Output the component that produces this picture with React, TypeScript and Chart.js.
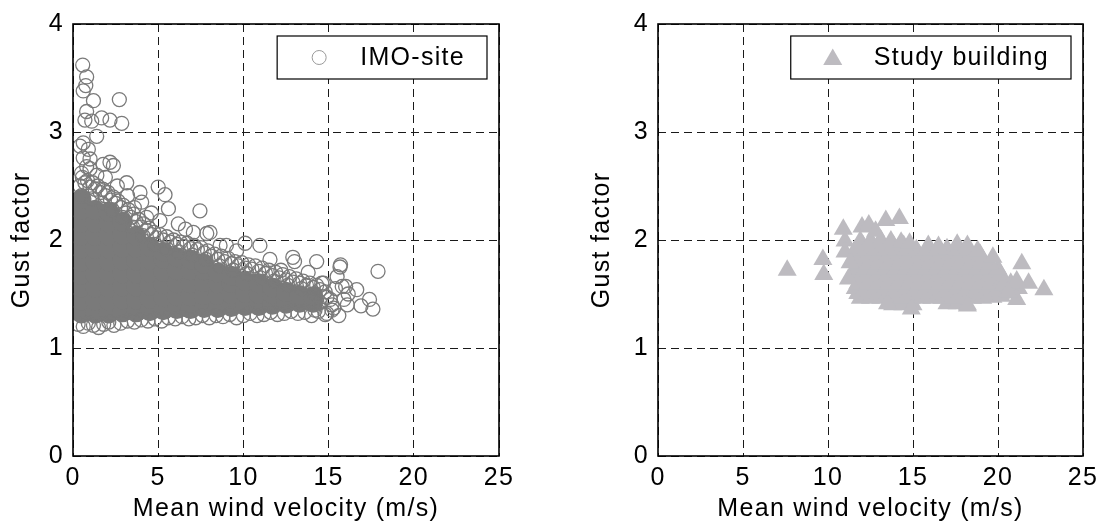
import React, { useEffect, useRef } from 'react';
import { Chart, registerables } from 'chart.js';

Chart.register(...registerables);

// ---------------- data ----------------
const xTicks = [0, 5, 10, 15, 20, 25];
const yTicks = [0, 1, 2, 3, 4];
const xTitle = 'Mean wind velocity (m/s)';
const yTitle = 'Gust factor';
const imoLabel = 'IMO-site';
const studyLabel = 'Study building';

type P = [number, number];

// IMO-site: densely overlapping core of the cloud
const imoDense: P[] = [
  [0.5, 1.32], [0.5, 1.44], [0.5, 1.56], [0.5, 1.68], [0.5, 1.8], [0.5, 1.92], [0.5, 2.04], [0.5, 2.16], [0.5, 2.28], [0.5, 2.38],
  [1.3, 1.32], [1.3, 1.44], [1.3, 1.56], [1.3, 1.68], [1.3, 1.8], [1.3, 1.92], [1.3, 2.04], [1.3, 2.16], [1.3, 2.28],
  [2.1, 1.32], [2.1, 1.44], [2.1, 1.56], [2.1, 1.68], [2.1, 1.8], [2.1, 1.92], [2.1, 2.04], [2.1, 2.16], [2.1, 2.26],
  [2.9, 1.33], [2.9, 1.45], [2.9, 1.57], [2.9, 1.69], [2.9, 1.81], [2.9, 1.93], [2.9, 2.05], [2.9, 2.17],
  [3.7, 1.33], [3.7, 1.45], [3.7, 1.57], [3.7, 1.69], [3.7, 1.81], [3.7, 1.93], [3.7, 2.04],
  [4.5, 1.34], [4.5, 1.46], [4.5, 1.58], [4.5, 1.7], [4.5, 1.82], [4.5, 1.94],
  [5.3, 1.35], [5.3, 1.47], [5.3, 1.59], [5.3, 1.71], [5.3, 1.83], [5.3, 1.89],
  [6.1, 1.36], [6.1, 1.48], [6.1, 1.6], [6.1, 1.72], [6.1, 1.84],
  [6.9, 1.36], [6.9, 1.48], [6.9, 1.6], [6.9, 1.72], [6.9, 1.82],
  [7.7, 1.37], [7.7, 1.49], [7.7, 1.61], [7.7, 1.72], [7.7, 1.78],
  [8.5, 1.37], [8.5, 1.49], [8.5, 1.6], [8.5, 1.7],
  [9.3, 1.38], [9.3, 1.5], [9.3, 1.6], [9.3, 1.67],
  [10.1, 1.39], [10.1, 1.51], [10.1, 1.62],
  [10.9, 1.39], [10.9, 1.5], [10.9, 1.6],
  [11.7, 1.4], [11.7, 1.5], [11.7, 1.56],
  [12.5, 1.41], [12.5, 1.52],
  [13.3, 1.42], [13.3, 1.49],
  [14.1, 1.42], [14.1, 1.48],
];

// IMO-site: circles along the outline of the cloud
const imoEdge: P[] = [
  [0.4, 2.5], [0.7, 2.53], [1.0, 2.49], [1.3, 2.47], [1.6, 2.44], [1.9, 2.41], [2.2, 2.37], [2.5, 2.34], [2.8, 2.3], [3.1, 2.25],
  [3.4, 2.21], [3.7, 2.17], [4.0, 2.12], [4.3, 2.09], [4.6, 2.05], [4.9, 2.02], [5.3, 2.0], [5.7, 1.98], [6.1, 1.96], [6.5, 1.94],
  [6.9, 1.92], [7.3, 1.91], [7.7, 1.88], [8.1, 1.85], [8.5, 1.82], [8.9, 1.8], [9.3, 1.78], [9.7, 1.76], [10.1, 1.74], [10.5, 1.73],
  [10.9, 1.71], [11.3, 1.69], [11.7, 1.67], [12.1, 1.65], [12.5, 1.63], [12.9, 1.61], [13.3, 1.6], [13.7, 1.58], [14.1, 1.56], [14.5, 1.54],
  [0.55, 2.58], [0.85, 2.55], [1.15, 2.53], [1.45, 2.5], [1.75, 2.47], [2.05, 2.44], [2.35, 2.4], [2.65, 2.36], [2.95, 2.32], [3.25, 2.28],
  [3.55, 2.24], [3.85, 2.19], [4.15, 2.15], [4.45, 2.11], [4.75, 2.07], [5.1, 2.05], [5.5, 2.03], [5.9, 2.0], [6.3, 1.98], [6.7, 1.97],
  [7.1, 1.95], [7.5, 1.93], [7.9, 1.9], [8.3, 1.87], [8.7, 1.85], [9.1, 1.83], [9.5, 1.8], [9.9, 1.79], [10.3, 1.77], [10.7, 1.76],
  [11.1, 1.74], [11.5, 1.72], [11.9, 1.7], [12.3, 1.68], [12.7, 1.66], [13.1, 1.64], [13.5, 1.62], [13.9, 1.6], [14.3, 1.58],
  [0.5, 2.41], [1.1, 2.38], [1.7, 2.34], [2.3, 2.28], [2.9, 2.21], [3.5, 2.12], [4.1, 2.04], [4.8, 1.96], [5.5, 1.92], [6.2, 1.89],
  [7.0, 1.86], [7.8, 1.82], [8.6, 1.76], [9.4, 1.72], [10.2, 1.69], [11.0, 1.65], [11.8, 1.62], [12.6, 1.58], [13.4, 1.55], [14.2, 1.5],
  [0.3, 1.22], [0.6, 1.2], [0.9, 1.23], [1.2, 1.21], [1.5, 1.19], [1.8, 1.22], [2.1, 1.24], [2.4, 1.21], [2.8, 1.23], [3.2, 1.25],
  [3.6, 1.24], [4.0, 1.26], [4.4, 1.25], [4.8, 1.27], [5.2, 1.25], [5.6, 1.28], [6.0, 1.27], [6.4, 1.29], [6.8, 1.27], [7.2, 1.28],
  [7.6, 1.3], [8.0, 1.28], [8.4, 1.3], [8.8, 1.29], [9.2, 1.31], [9.6, 1.28], [10.0, 1.3], [10.4, 1.32], [10.8, 1.3], [11.2, 1.31],
  [11.6, 1.33], [12.0, 1.31], [12.4, 1.32], [12.8, 1.34], [13.2, 1.32], [13.6, 1.33], [14.0, 1.3], [14.4, 1.34], [14.8, 1.31], [15.2, 1.35],
  [14.5, 1.42], [14.8, 1.52], [15.1, 1.45], [15.2, 1.4], [15.4, 1.55], [15.9, 1.45], [14.9, 1.47], [14.6, 1.6],
];

// IMO-site: scattered points outside the cloud
const imoSparse: P[] = [
  [0.57, 3.62], [0.8, 3.51], [0.75, 3.43], [0.6, 3.38], [1.2, 3.29], [2.72, 3.3], [2.86, 3.08], [0.8, 3.19], [0.7, 3.11], [1.68, 3.13],
  [2.17, 3.11], [1.1, 3.1], [1.39, 2.96], [0.41, 2.87], [0.6, 2.9], [0.9, 2.84], [0.6, 2.76], [1.0, 2.75], [0.8, 2.68], [2.17, 2.72],
  [2.37, 2.69], [1.77, 2.7], [1.0, 2.66], [0.5, 2.62], [1.4, 2.6], [1.9, 2.58], [2.6, 2.5], [3.15, 2.53], [3.2, 2.41], [3.93, 2.44],
  [5.0, 2.49], [5.4, 2.42], [4.03, 2.35], [3.6, 2.3], [5.6, 2.29], [7.45, 2.27], [4.32, 2.21], [4.6, 2.25], [5.1, 2.18], [6.18, 2.15],
  [6.6, 2.1], [7.06, 2.07], [8.04, 2.07], [7.85, 2.06], [8.63, 1.95], [9.0, 1.95], [9.6, 1.9], [10.1, 1.97], [10.97, 1.95], [11.56, 1.82],
  [12.2, 1.72], [12.9, 1.84], [13.0, 1.8], [13.8, 1.7], [14.3, 1.8], [14.7, 1.6], [15.5, 1.66], [15.67, 1.75], [15.7, 1.77], [15.8, 1.57],
  [16.0, 1.57], [16.15, 1.5], [16.65, 1.54], [16.1, 1.4], [15.3, 1.37], [16.9, 1.39], [17.4, 1.45], [17.6, 1.36], [17.9, 1.71], [14.9, 1.32],
  [15.6, 1.3], [14.2, 1.35],
];

// Study building: main body of the cluster
const studyBody: P[] = [
  [13.8, 1.4], [14.4, 1.4], [15.0, 1.4], [17.0, 1.41], [17.6, 1.41], [18.2, 1.4],
  [11.9, 1.46], [12.5, 1.46], [13.1, 1.46], [13.7, 1.46], [14.3, 1.46], [14.9, 1.46], [15.5, 1.46], [16.1, 1.46], [16.7, 1.46], [17.3, 1.46],
  [17.9, 1.46], [18.5, 1.46], [19.1, 1.46], [19.7, 1.47], [20.2, 1.48],
  [11.75, 1.505], [12.35, 1.505], [12.95, 1.505], [13.55, 1.505], [14.15, 1.505], [14.75, 1.505], [15.35, 1.505], [15.95, 1.505], [16.55, 1.505], [17.15, 1.505],
  [17.75, 1.505], [18.35, 1.505], [18.95, 1.505], [19.55, 1.505], [20.15, 1.51], [20.75, 1.51],
  [11.6, 1.55], [12.2, 1.55], [12.8, 1.55], [13.4, 1.55], [14.0, 1.55], [14.6, 1.55], [15.2, 1.55], [15.8, 1.55], [16.4, 1.55], [17.0, 1.55],
  [17.6, 1.55], [18.2, 1.55], [18.8, 1.55], [19.4, 1.55], [20.0, 1.55], [20.6, 1.55], [21.2, 1.55],
  [11.75, 1.595], [12.35, 1.595], [12.95, 1.595], [13.55, 1.595], [14.15, 1.595], [14.75, 1.595], [15.35, 1.595], [15.95, 1.595], [16.55, 1.595], [17.15, 1.595],
  [17.75, 1.595], [18.35, 1.595], [18.95, 1.595], [19.55, 1.595], [20.15, 1.595], [20.75, 1.6],
  [11.9, 1.64], [12.5, 1.64], [13.1, 1.64], [13.7, 1.64], [14.3, 1.64], [14.9, 1.64], [15.5, 1.64], [16.1, 1.64], [16.7, 1.64], [17.3, 1.64],
  [17.9, 1.64], [18.5, 1.64], [19.1, 1.64], [19.7, 1.64], [20.3, 1.64],
  [11.75, 1.685], [12.35, 1.685], [12.95, 1.685], [13.55, 1.685], [14.15, 1.685], [14.75, 1.685], [15.35, 1.685], [15.95, 1.685], [16.55, 1.685], [17.15, 1.685],
  [17.75, 1.685], [18.35, 1.685], [18.95, 1.685], [19.55, 1.685], [20.15, 1.685],
  [11.6, 1.73], [12.2, 1.73], [12.8, 1.73], [13.4, 1.73], [14.0, 1.73], [14.6, 1.73], [15.2, 1.73], [15.8, 1.73], [16.4, 1.73], [17.0, 1.73],
  [17.6, 1.73], [18.2, 1.73], [18.8, 1.73], [19.4, 1.73], [20.0, 1.73],
  [11.75, 1.775], [12.35, 1.775], [12.95, 1.775], [13.55, 1.775], [14.15, 1.775], [14.75, 1.775], [15.35, 1.775], [15.95, 1.775], [16.55, 1.775], [17.15, 1.775],
  [17.75, 1.775], [18.35, 1.775], [18.95, 1.775], [19.55, 1.775],
  [11.9, 1.82], [12.5, 1.82], [13.1, 1.82], [13.7, 1.82], [14.3, 1.82], [14.9, 1.82], [15.5, 1.82], [16.1, 1.82], [16.7, 1.82], [17.3, 1.82],
  [17.9, 1.82], [18.5, 1.82], [19.1, 1.82],
  [11.75, 1.865], [12.35, 1.865], [12.95, 1.865], [13.55, 1.865], [14.15, 1.865], [14.75, 1.865], [15.35, 1.865], [15.95, 1.865], [16.55, 1.865], [17.15, 1.865],
  [17.75, 1.865], [18.35, 1.865], [18.95, 1.865],
  [11.6, 1.91], [12.2, 1.91], [12.8, 1.91], [13.4, 1.91], [14.0, 1.91], [14.6, 1.91], [15.2, 1.91], [15.8, 1.91], [16.4, 1.91], [17.0, 1.92],
  [17.6, 1.91], [18.2, 1.91], [18.8, 1.9],
  [12.05, 1.95], [12.65, 1.95], [13.25, 1.95], [13.85, 1.95], [14.45, 1.95],
  [11.9, 1.99], [12.5, 1.99], [13.1, 2.0], [13.7, 1.99], [14.3, 1.98], [14.8, 1.97], [15.9, 1.95], [16.5, 1.94], [17.6, 1.96], [18.2, 1.95],
];

// Study building: scattered triangles around the main body
const studyOutliers: P[] = [
  [7.6, 1.72], [9.7, 1.82], [9.75, 1.68], [11.2, 1.64], [10.9, 2.1], [11.0, 1.99], [11.0, 1.89], [11.3, 1.79], [12.0, 2.12], [12.4, 2.14],
  [13.4, 2.18], [14.2, 2.2], [12.8, 2.08], [21.4, 1.78], [22.7, 1.54], [21.8, 1.6], [21.1, 1.62], [21.1, 1.45], [19.7, 1.84], [14.9, 1.36],
  [18.2, 1.39], [13.5, 1.41], [20.3, 1.58], [20.6, 1.52],
];

// ---------------- styling ----------------
const FONT_FAMILY = '"Liberation Sans", Arial, Helvetica, sans-serif';
const IMO_GRAY = '#7a7a7a';
const STUDY_GRAY = '#bdbbc0';

const toXY = (pts: P[]) => pts.map(([x, y]) => ({ x, y }));

const spacingPlugin = {
  id: 'letterSpacing',
  beforeDraw(chart: any) {
    chart.ctx.letterSpacing = '1.3px';
  },
};

const framePlugin = {
  id: 'frame',
  afterDatasetsDraw(chart: any) {
    const { ctx, chartArea: a } = chart;
    ctx.save();
    ctx.setLineDash([]);
    ctx.strokeStyle = '#000';
    ctx.lineWidth = 1.6;
    ctx.strokeRect(a.left, a.top, a.right - a.left, a.bottom - a.top);
    ctx.restore();
  },
};

const boxLegendPlugin = {
  id: 'boxLegend',
  afterDraw(chart: any, _args: any, opts: any) {
    const { ctx, chartArea: a } = chart;
    const ds = chart.data.datasets[0];
    ctx.save();
    ctx.setLineDash([]);
    ctx.font = `25px ${FONT_FAMILY}`;
    const tw = ctx.measureText(ds.label).width;
    const right = a.right - 12;
    const top = a.top + 12;
    const h = 43;
    const left = right - 25 - tw - 80;
    ctx.fillStyle = '#fff';
    ctx.fillRect(left, top, right - left, h);
    ctx.strokeStyle = '#000';
    ctx.lineWidth = 1.2;
    ctx.strokeRect(left, top, right - left, h);
    const mx = left + 42;
    const my = top + h / 2;
    ctx.beginPath();
    if (opts.marker === 'triangle') {
      const r = ds.pointRadius;
      for (let i = 0; i < 3; i++) {
        const ang = (i * 2 * Math.PI) / 3;
        const px = mx + Math.sin(ang) * r;
        const py = my - Math.cos(ang) * r + 2;
        if (i === 0) ctx.moveTo(px, py);
        else ctx.lineTo(px, py);
      }
      ctx.closePath();
      ctx.fillStyle = ds.pointBackgroundColor;
      ctx.fill();
    } else {
      ctx.arc(mx, my, 7, 0, Math.PI * 2);
      ctx.strokeStyle = '#9a9a9a';
      ctx.lineWidth = 1;
      ctx.stroke();
    }
    ctx.fillStyle = '#000';
    ctx.textAlign = 'left';
    ctx.textBaseline = 'middle';
    ctx.fillText(ds.label, left + 83, my + 1);
    ctx.restore();
  },
};

function makeScales(yAxisWidth: number) {
  const tickFont = { family: FONT_FAMILY, size: 25 };
  return {
    x: {
      type: 'linear' as const,
      min: xTicks[0],
      max: xTicks[xTicks.length - 1],
      ticks: { stepSize: xTicks[1] - xTicks[0], font: tickFont, color: '#000', padding: 7, maxRotation: 0 },
      grid: { drawTicks: false, color: '#1a1a1a', lineWidth: 1 },
      border: { display: false, dash: [8, 5] },
      title: { display: true, text: xTitle, font: tickFont, color: '#000', padding: { top: 4, bottom: 5 } },
      afterFit: (s: any) => {
        s.height = 73;
      },
    },
    y: {
      type: 'linear' as const,
      min: yTicks[0],
      max: yTicks[yTicks.length - 1],
      ticks: { stepSize: yTicks[1] - yTicks[0], font: tickFont, color: '#000', padding: 9 },
      grid: { drawTicks: false, color: '#1a1a1a', lineWidth: 1 },
      border: { display: false, dash: [8, 5] },
      title: { display: true, text: yTitle, font: tickFont, color: '#000', padding: { top: 7, bottom: 4 } },
      afterFit: (s: any) => {
        s.width = yAxisWidth;
      },
    },
  };
}

type PanelProps = {
  left: number;
  width: number;
  yAxisWidth: number;
  padRight: number;
  marker: 'circle' | 'triangle';
  datasets: any[];
};

function Panel({ left, width, yAxisWidth, padRight, marker, datasets }: PanelProps) {
  const ref = useRef<HTMLCanvasElement>(null);
  useEffect(() => {
    const chart = new Chart(ref.current as HTMLCanvasElement, {
      type: 'scatter',
      data: { datasets },
      options: {
        animation: false,
        responsive: false,
        maintainAspectRatio: false,
        devicePixelRatio: 1,
        layout: { padding: { top: 20, right: padRight, left: 0, bottom: 0 } },
        plugins: {
          legend: { display: false },
          tooltip: { enabled: false },
          boxLegend: { marker },
        } as any,
        scales: makeScales(yAxisWidth) as any,
      },
      plugins: [spacingPlugin, framePlugin, boxLegendPlugin],
    });
    return () => chart.destroy();
  }, []);
  return (
    <canvas
      ref={ref}
      width={width}
      height={529}
      style={{ position: 'absolute', left, top: 0, width, height: 529 }}
    />
  );
}

export default function App() {
  const imoDatasets = [
    {
      label: imoLabel,
      data: toXY([...imoEdge, ...imoSparse]),
      pointStyle: 'circle',
      pointRadius: 7,
      pointBorderWidth: 1.3,
      pointBorderColor: IMO_GRAY,
      pointBackgroundColor: 'rgba(0,0,0,0)',
      showLine: false,
      order: 1,
    },
    {
      label: imoLabel + ' (dense)',
      data: toXY(imoDense),
      pointStyle: 'circle',
      pointRadius: 10,
      pointBorderWidth: 0,
      pointBorderColor: IMO_GRAY,
      pointBackgroundColor: IMO_GRAY,
      showLine: false,
      order: 2,
    },
  ];
  const studyDatasets = [
    {
      label: studyLabel,
      data: toXY([...studyBody, ...studyOutliers]),
      pointStyle: 'triangle',
      pointRadius: 11,
      pointBorderWidth: 0,
      pointBorderColor: STUDY_GRAY,
      pointBackgroundColor: STUDY_GRAY,
      showLine: false,
    },
  ];
  return (
    <div style={{ position: 'absolute', left: 0, top: 0, width: 1107, height: 529, background: '#fff' }}>
      <Panel left={0} width={553} yAxisWidth={73} padRight={54} marker="circle" datasets={imoDatasets} />
      <Panel left={580} width={527} yAxisWidth={78} padRight={24} marker="triangle" datasets={studyDatasets} />
    </div>
  );
}
